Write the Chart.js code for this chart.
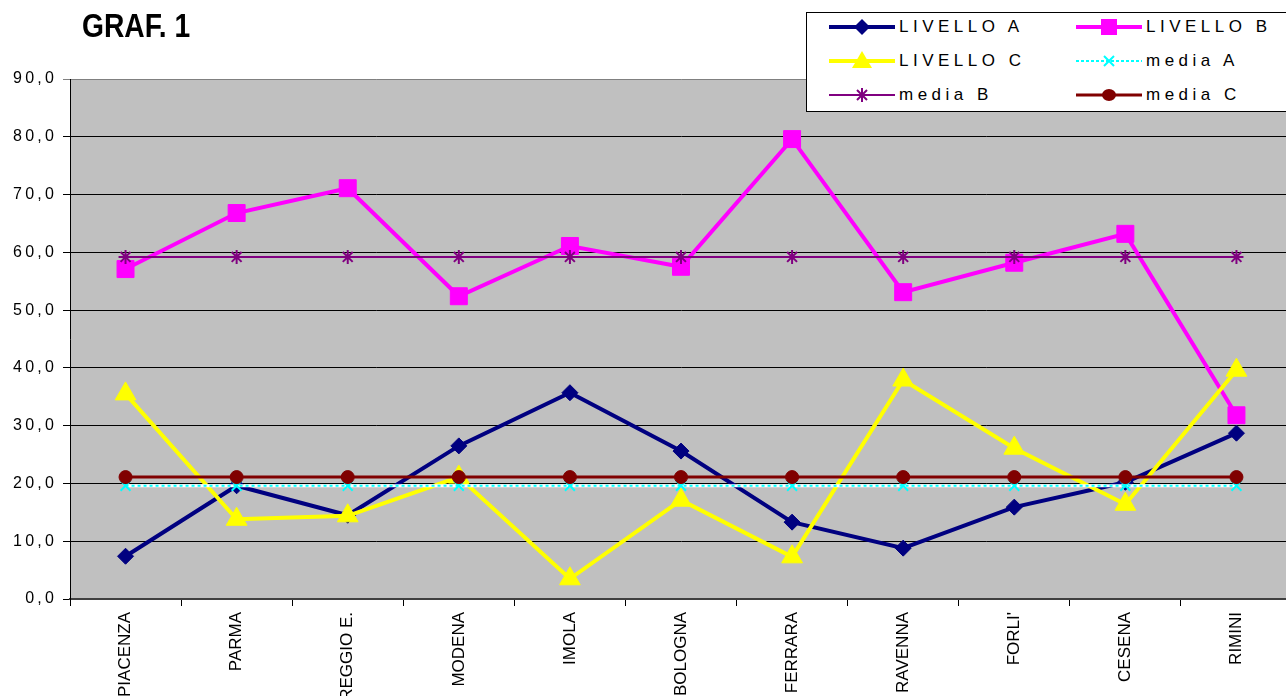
<!DOCTYPE html>
<html><head><meta charset="utf-8">
<script src="https://cdn.jsdelivr.net/npm/chart.js@4"></script>
<style>
html,body{margin:0;padding:0;background:#fff;}
#wrap{position:relative;width:1286px;height:696px;overflow:hidden;}
#c{position:absolute;left:0;top:0;}
#title{position:absolute;left:82px;top:6px;font:bold 34px "Liberation Sans",Arial,sans-serif;color:#000;transform:scaleX(0.83);transform-origin:0 0;}
#legend{position:absolute;left:806px;top:12px;width:479px;height:98px;border:1px solid #000;background:#fff;font:17px "Liberation Sans",Arial,sans-serif;letter-spacing:4.5px;color:#000;}
.item{position:absolute;display:flex;align-items:center;height:24px;white-space:nowrap;}
.item svg{margin-right:4px;}
</style>
</head><body>
<div id="wrap">
<canvas id="c" width="1292" height="696"></canvas>
<div id="title">GRAF. 1</div>
<div id="legend"></div>
</div>
<script>
const categories = ["PIACENZA","PARMA","REGGIO E.","MODENA","IMOLA","BOLOGNA","FERRARA","RAVENNA","FORLI'","CESENA","RIMINI"];
const livelloA = [7.4, 19.6, 14.5, 26.5, 35.7, 25.6, 13.3, 8.8, 15.9, 20.2, 28.7];
const livelloB = [57.1, 66.8, 71.1, 52.4, 61.1, 57.5, 79.6, 53.1, 58.2, 63.2, 31.8];
const livelloC = [35.5, 13.8, 14.4, 21.1, 3.5, 17.1, 7.3, 37.9, 26.1, 16.4, 39.6];
const mediaA = [19.6, 19.6, 19.6, 19.6, 19.6, 19.6, 19.6, 19.6, 19.6, 19.6, 19.6];
const mediaB = [59.2, 59.2, 59.2, 59.2, 59.2, 59.2, 59.2, 59.2, 59.2, 59.2, 59.2];
const mediaC = [21.1, 21.1, 21.1, 21.1, 21.1, 21.1, 21.1, 21.1, 21.1, 21.1, 21.1];
const yTicks = [0, 10, 20, 30, 40, 50, 60, 70, 80, 90];

const series = [
  {label:"LIVELLO A", data:livelloA, color:"#000080", width:4, style:"rectRot", r:8, order:7},
  {label:"LIVELLO B", data:livelloB, color:"#FF00FF", width:4, style:"rect", r:12, order:6},
  {label:"LIVELLO C", data:livelloC, color:"#FFFF00", width:4, style:"triangle", r:12, order:5},
  {label:"media A", data:mediaA, color:"#00FFFF", width:2, style:"crossRot", r:7, order:3, dash:[3,3]},
  {label:"media B", data:mediaB, color:"#800080", width:2, style:"star", r:7, order:2},
  {label:"media C", data:mediaC, color:"#800000", width:3, style:"circle", r:6.5, order:1}
];

const datasets = series.map(s => ({
  label: s.label, data: s.data, borderColor: s.color, backgroundColor: s.color,
  borderWidth: s.width, borderDash: s.dash || [], pointStyle: s.style, pointRadius: s.r,
  pointHoverRadius: s.r, pointBorderColor: s.color, pointBackgroundColor: s.color,
  pointBorderWidth: (s.style==="crossRot"||s.style==="star") ? 2 : 1,
  tension: 0, order: s.order, fill: false
}));
// white underlay for the dotted media A line
datasets.push({label:"_mediaA_bg", data: mediaA, borderColor:"#FFFFFF", borderWidth:3, pointRadius:0, pointHoverRadius:0, order:4, fill:false});

const bgPlugin = {
  id: 'bg',
  beforeDraw(chart) {
    const {ctx, chartArea:a} = chart;
    ctx.save();
    ctx.fillStyle = '#C0C0C0';
    ctx.fillRect(a.left, a.top, a.right - a.left, a.bottom - a.top);
    ctx.restore();
    ctx.letterSpacing = '3.2px';
  },
  beforeDatasetsDraw(chart) { chart.ctx.letterSpacing = '0px'; }
};

const chart = new Chart(document.getElementById('c'), {
  type: 'line',
  data: { labels: categories, datasets },
  plugins: [bgPlugin],
  options: {
    responsive: false, animation: false, devicePixelRatio: 1,
    layout: { autoPadding: false, padding: { top: 79, left: 0, right: 0, bottom: 0 } },
    plugins: { legend: { display: false }, tooltip: { enabled: false } },
    scales: {
      x: {
        type: 'category', offset: true,
        grid: { offset: true, drawOnChartArea: false, drawTicks: true, tickLength: 7, color: '#000', lineWidth: 1 },
        border: { display: true, color: '#404040', width: 2 },
        ticks: { z: 1, autoSkip: false, maxRotation: 90, minRotation: 90, padding: 6, color: '#000',
                 font: { family: '"Liberation Sans", Arial, sans-serif', size: 17 } },
        afterFit(scale) { scale.height = 97; scale.paddingRight = 0; scale.paddingLeft = 0; }
      },
      y: {
        min: 0, max: 90,
        afterBuildTicks(scale) { scale.ticks = yTicks.map(v => ({value: v})); },
        grid: { color: ctx => (ctx.tick && ctx.tick.value === 90) ? '#808080' : '#000', lineWidth: 1, drawTicks: true, tickLength: 7 },
        border: { display: true, color: '#000', width: 1 },
        ticks: { padding: 6, color: '#000',
                 font: { family: '"Liberation Sans", Arial, sans-serif', size: 16 },
                 callback: v => v.toFixed(1).replace('.', ',') },
        afterFit(scale) { scale.width = 70; scale.paddingTop = 0; scale.paddingBottom = 0; }
      }
    }
  }
});

// HTML legend built from the series
const legend = document.getElementById('legend');
const pos = [[22,2],[269,2],[22,36],[269,36],[22,70],[269,70]];
function markerSVG(s){
  const cx=33, cy=12, c=s.color;
  let line = `<line x1="0" y1="12" x2="66" y2="12" stroke="${c}" stroke-width="${s.width}" ${s.dash?'stroke-dasharray="3,2"':''}/>`;
  let m='';
  switch(s.style){
    case 'rectRot': m=`<polygon points="${cx-8},${cy} ${cx},${cy-8} ${cx+8},${cy} ${cx},${cy+8}" fill="${c}"/>`; break;
    case 'rect': m=`<rect x="${cx-8}" y="${cy-8}" width="16" height="16" fill="${c}"/>`; break;
    case 'triangle': m=`<polygon points="${cx},${cy-10} ${cx+10},${cy+7} ${cx-10},${cy+7}" fill="${c}"/>`; break;
    case 'crossRot': m=`<path d="M${cx-5},${cy-5}L${cx+5},${cy+5}M${cx+5},${cy-5}L${cx-5},${cy+5}" stroke="${c}" stroke-width="2"/>`; break;
    case 'star': m=`<path d="M${cx-5},${cy-5}L${cx+5},${cy+5}M${cx+5},${cy-5}L${cx-5},${cy+5}M${cx},${cy-7}L${cx},${cy+7}" stroke="${c}" stroke-width="2"/>`; break;
    case 'circle': m=`<ellipse cx="${cx}" cy="${cy}" rx="7" ry="6" fill="${c}"/>`; break;
  }
  return `<svg width="66" height="24" viewBox="0 0 66 24">${line}${m}</svg>`;
}
series.forEach((s,i) => {
  const d = document.createElement('div');
  d.className = 'item';
  d.style.left = pos[i][0] + 'px';
  d.style.top = pos[i][1] + 'px';
  d.innerHTML = markerSVG(s) + `<span>${s.label}</span>`;
  legend.appendChild(d);
});
</script>
</body></html>
